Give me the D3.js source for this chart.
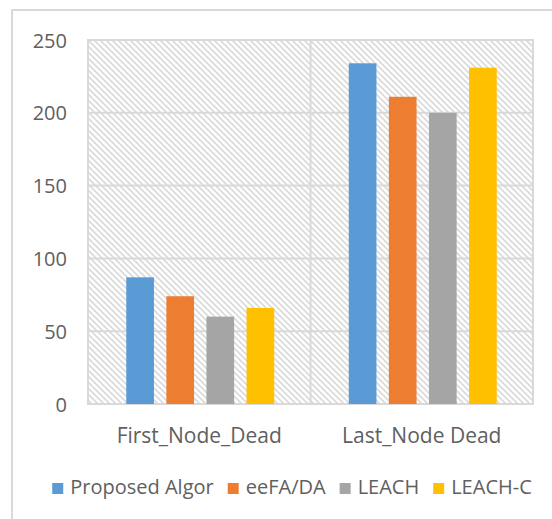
<!DOCTYPE html>
<html>
<head>
<meta charset="utf-8">
<script src="https://cdn.jsdelivr.net/npm/d3@7"></script>
<style>
  html, body { margin: 0; padding: 0; background: #fff; }
  svg { display: block; }
  text { font-family: "Open Sans", "Liberation Sans", sans-serif; fill: #606060; }
</style>
</head>
<body>
<svg id="chart" width="552" height="519"></svg>
<script>
const categories = ["First_Node_Dead", "Last_Node Dead"];
const seriesNames = ["Proposed Algor", "eeFA/DA", "LEACH", "LEACH-C"];
const proposedAlgor = [87, 234];
const eeFADA = [74, 211];
const leach = [60, 200];
const leachC = [66, 231];
const yTicks = [0, 50, 100, 150, 200, 250];
const colors = ["#5B9BD5", "#ED7D31", "#A5A5A5", "#FFC000"];

const seriesValues = [proposedAlgor, eeFADA, leach, leachC];

const svg = d3.select("#chart");
const plot = { left: 88, right: 533, top: 40, bottom: 404 };

// outer chart border (left & top visible)
svg.append("path")
  .attr("d", "M12,530 L12,10 L560,10")
  .attr("fill", "none").attr("stroke", "#D9D9D9").attr("stroke-width", 2);

// hatch pattern
const defs = svg.append("defs");
const pat = defs.append("pattern")
  .attr("id", "hatch").attr("patternUnits", "userSpaceOnUse")
  .attr("width", 6).attr("height", 6);
pat.append("rect").attr("width", 6).attr("height", 6).attr("fill", "#fff");
pat.append("path")
  .attr("d", "M-1,-1 L7,7 M-1,5 L1,7 M5,-1 L7,1")
  .attr("stroke", "#DADADA").attr("stroke-width", 1.6);

const x0 = d3.scaleBand().domain(categories).range([plot.left, plot.right]).padding(0);
const y = d3.scaleLinear().domain([0, 250]).range([plot.bottom, plot.top]);
const x1 = d3.scaleBand().domain(seriesNames)
  .range([x0.bandwidth() * 0.172, x0.bandwidth() * 0.837])
  .paddingInner(0.31).paddingOuter(0);

// plot background
svg.append("rect")
  .attr("x", plot.left).attr("y", plot.top)
  .attr("width", plot.right - plot.left).attr("height", plot.bottom - plot.top)
  .attr("fill", "url(#hatch)");

// horizontal gridlines
svg.append("g").selectAll("line").data(yTicks).join("line")
  .attr("x1", plot.left).attr("x2", plot.right)
  .attr("y1", d => y(d)).attr("y2", d => y(d))
  .attr("stroke", "#D9D9D9").attr("stroke-width", 2);

// vertical gridlines at category boundaries
const vLines = categories.map(c => x0(c)).concat([x0(categories[categories.length - 1]) + x0.bandwidth()]);
svg.append("g").selectAll("line").data(vLines).join("line")
  .attr("x1", d => d).attr("x2", d => d)
  .attr("y1", plot.top - 1).attr("y2", plot.bottom + 1)
  .attr("stroke", "#D9D9D9").attr("stroke-width", 2);

// bars
const groups = svg.append("g").selectAll("g").data(categories).join("g")
  .attr("transform", c => `translate(${x0(c)},0)`);
groups.selectAll("rect")
  .data((c, ci) => seriesNames.map((s, si) => ({ s, si, v: seriesValues[si][ci] })))
  .join("rect")
  .attr("x", d => x1(d.s))
  .attr("width", x1.bandwidth())
  .attr("y", d => y(d.v))
  .attr("height", d => y(0) - y(d.v))
  .attr("fill", d => colors[d.si]);

// y axis labels
svg.append("g").selectAll("text").data(yTicks).join("text")
  .attr("x", 67).attr("y", d => y(d))
  .attr("text-anchor", "end").attr("dominant-baseline", "central")
  .attr("font-size", 20)
  .text(d => d);

// category labels
svg.append("g").selectAll("text").data(categories).join("text")
  .attr("x", c => x0(c) + x0.bandwidth() / 2)
  .attr("y", 443)
  .attr("text-anchor", "middle")
  .attr("font-size", 21)
  .text(c => c);

// legend
const legend = svg.append("g");
const items = legend.selectAll("g").data(seriesNames).join("g");
items.append("rect").attr("width", 11).attr("height", 11)
  .attr("fill", (d, i) => colors[i]);
items.append("text").attr("x", 18).attr("y", 11)
  .attr("font-size", 20).text(d => d);
let cx = 0;
items.each(function () {
  const g = d3.select(this);
  const w = g.select("text").node().getComputedTextLength();
  g.attr("transform", `translate(${cx},0)`);
  cx += 18 + w + 14;
});
const total = cx - 14;
legend.attr("transform", `translate(${292 - total / 2},483)`);
</script>
</body>
</html>
